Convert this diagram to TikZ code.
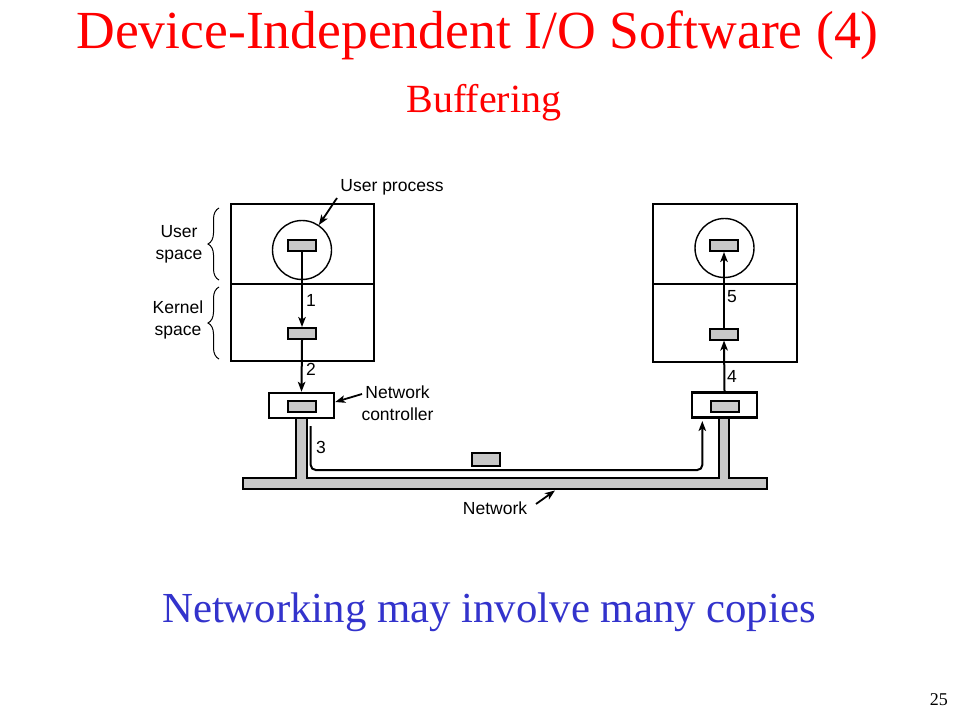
\documentclass[tikz,border=0pt]{standalone}
\usepackage{fontspec}
\setmainfont{Liberation Serif}
\setsansfont{Liberation Sans}
\usetikzlibrary{arrows.meta,decorations.pathreplacing}
\definecolor{slidered}{RGB}{255,0,0}
\definecolor{slideblue}{RGB}{51,51,204}
\definecolor{bufgray}{RGB}{200,200,200}
\tikzset{
 buf/.style={draw,fill=bufgray,line width=2pt,minimum width=28pt,minimum height=11pt,inner sep=0pt},
 ctl/.style={draw,fill=white,line width=2.4pt,minimum width=65pt,minimum height=25pt,inner sep=0pt},
 proc/.style={draw,circle,line width=1.4pt,minimum size=59pt,inner sep=0pt},
 lbl/.style={font=\sffamily\fontsize{17.5}{22}\selectfont,inner sep=0pt,align=center},
 num/.style={font=\sffamily\fontsize{17.5}{20}\selectfont,inner sep=0pt,anchor=west},
 arr/.style={line width=2pt,-{Stealth[length=10pt,width=7.5pt,inset=2.5pt]}},
 ptr/.style={line width=1.8pt,-{Stealth[length=10pt,width=7.5pt,inset=2.5pt]}},
 brc/.style={line width=1pt,decorate,decoration={brace,amplitude=11pt}}
}
\begin{document}
\begin{tikzpicture}[x=1pt,y=-1pt]
 \useasboundingbox[fill=white](0,0) rectangle (960,720);
 % titles
 \node[anchor=base,text=slidered,font=\fontsize{53.6}{60}\selectfont,inner sep=0pt] (title) at (477.5,48) {Device-Independent I/O Software (4)};
 \node[anchor=base,text=slidered,font=\fontsize{40}{46}\selectfont,inner sep=0pt] (subtitle) at (484,112) {Buffering};
 \node[anchor=base,text=slideblue,font=\fontsize{42.8}{48}\selectfont,inner sep=0pt] (caption) at (489,622) {Networking may involve many copies};
 \node[anchor=base east,font=\fontsize{18}{20}\selectfont,inner sep=0pt] (pageno) at (948,705) {25};
 % network cable with the two stems
 \draw[fill=bufgray,line width=2.2pt](296,418)--(296,477.7)--(243.3,477.7)--(243.3,489.3)--(767.3,489.3)--(767.3,477.7)--(729.3,477.7)--(729.3,417)--(718.7,417)--(718.7,477.7)--(306.7,477.7)--(306.7,418);
 % hosts
 \draw[line width=2.4pt](231,204) rectangle (374,361);
 \draw[line width=2.4pt](231,284)--(374,284);
 \draw[line width=2.4pt](653,204) rectangle (797,362);
 \draw[line width=2.4pt](653,284)--(797,284);
 \node[proc] (procL) at (302,250) {};
 \node[proc] (procR) at (724.5,248) {};
 \node[buf] (ubufL) at (302,245.5) {};
 \node[buf] (kbufL) at (302,333.5) {};
 \node[buf] (ubufR) at (724,245.5) {};
 \node[buf] (kbufR) at (724,334) {};
 \node[ctl] (ctlL) at (301.5,405.5) {};
 \node[ctl] (ctlR) at (724.5,405) {};
 \node[buf] (cbufL) at (302,406.5) {};
 \node[buf] (cbufR) at (724.5,406) {};
 \node[buf,minimum height=12.5pt] (packet) at (486,459.7) {};
 % copies
 \draw[arr](ubufL.south)--(kbufL.north);
 \draw[arr](kbufL.south)--(ctlL.north);
 \coordinate (outL) at (310.7,426);
 \coordinate (turnR) at (702.3,470);
 \coordinate (inR) at (702.3,421);
 \draw[arr,rounded corners=5pt](outL)|-(turnR)--(inR);
 \draw[arr](ctlR.north)--(kbufR.south);
 \draw[arr](kbufR.north)--(ubufR.south);
 \node[num] (n1) at (306,300) {1};
 \node[num] (n2) at (306,369) {2};
 \node[num] (n3) at (316,447) {3};
 \node[num] (n4) at (727,376) {4};
 \node[num] (n5) at (727,297) {5};
 % labels
 \node[lbl] (uproc) at (392,187) {User process};
 \node[lbl] (uspace) at (179,244) {User\\space};
 \node[lbl] (kspace) at (178,320) {Kernel\\space};
 \node[lbl] (netctl) at (397.5,403) {Network\\controller};
 \node[lbl] (net) at (495,508) {Network};
 \coordinate (uprocTail) at (337,198);
 \coordinate (netctlTail) at (362,394);
 \coordinate (netTail) at (536,504);
 \draw[ptr](uprocTail)--(procL.56);
 \draw[ptr](netctlTail)--(ctlL.east|-339,402);
 \draw[ptr](netTail)--(555,490.5);
 \draw[brc](219,280)--(219,208);
 \draw[brc](219,359)--(219,287);
\end{tikzpicture}
\end{document}
